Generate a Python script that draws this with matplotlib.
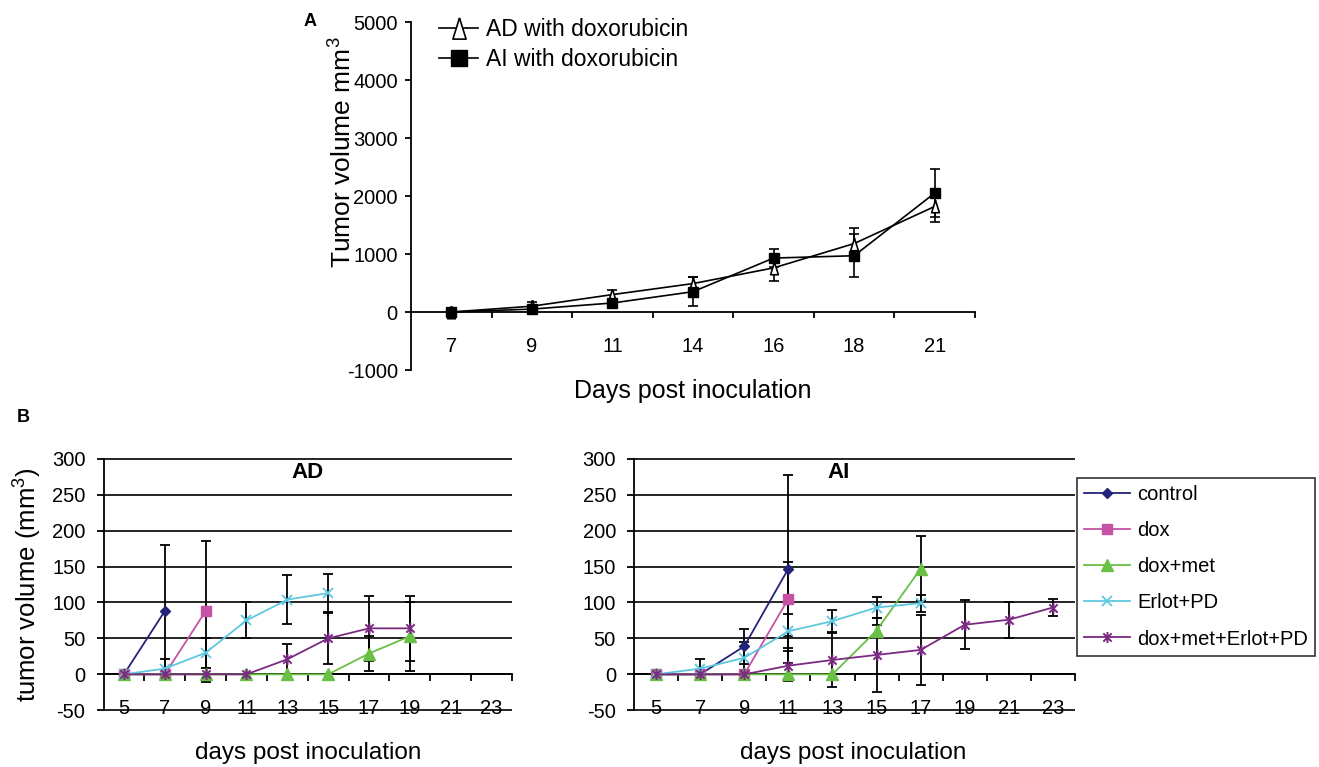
import numpy as np
import matplotlib.pyplot as plt
from matplotlib.path import Path

plt.rcParams['font.family'] = ['Liberation Sans', 'DejaVu Sans']
plt.rcParams['mathtext.fontset'] = 'custom'
plt.rcParams['mathtext.rm'] = 'Liberation Sans'
plt.rcParams['mathtext.it'] = 'Liberation Sans'
plt.rcParams['mathtext.bf'] = 'Liberation Sans:bold'
plt.rcParams['axes.unicode_minus'] = False

nan = np.nan

# ---- panel A data
days_a = ['7', '9', '11', '14', '16', '18', '21']
ad_dox = [0, 100, 300, 490, 760, 1180, 1820]
ad_dox_err = [20, 80, 86, 120, 218, 270, 260]
ai_dox = [0, 50, 155, 350, 930, 970, 2050]
ai_dox_err = [40, 60, 70, 255, 155, 368, 414]

# ---- panel B data
days_b = ['5', '7', '9', '11', '13', '15', '17', '19', '21', '23']
groups = ['control', 'dox', 'dox+met', 'Erlot+PD', 'dox+met+Erlot+PD']

ad_control = [0, 88, nan, nan, nan, nan, nan, nan, nan, nan]
ad_control_err = [nan, 92, nan, nan, nan, nan, nan, nan, nan, nan]
ad_dox_b = [0, 0, 88, nan, nan, nan, nan, nan, nan, nan]
ad_dox_b_err = [nan, nan, 98, nan, nan, nan, nan, nan, nan, nan]
ad_doxmet = [0, 0, 0, 0, 0, 0, 29, 53, nan, nan]
ad_doxmet_err = [nan, nan, nan, nan, nan, nan, 24, 48, nan, nan]
ad_erlot = [0, 8, 30, 75, 104, 113, nan, nan, nan, nan]
ad_erlot_err = [nan, 14, 21, 25, 34, 26, nan, nan, nan, nan]
ad_combo = [0, 0, 0, 0, 21, 50, 64, 64, nan, nan]
ad_combo_err = [nan, nan, nan, nan, 21, 36, 45, 45, nan, nan]

ai_control = [0, 0, 39, 147, nan, nan, nan, nan, nan, nan]
ai_control_err = [nan, nan, 24, 131, nan, nan, nan, nan, nan, nan]
ai_dox_b = [0, 0, 0, 105, nan, nan, nan, nan, nan, nan]
ai_dox_b_err = [nan, nan, nan, 52, nan, nan, nan, nan, nan, nan]
ai_doxmet = [0, 0, 0, 0, 0, 61, 147, nan, nan, nan]
ai_doxmet_err = [nan, nan, nan, nan, nan, 8, 45, nan, nan, nan]
ai_erlot = [0, 8, 23, 60, 74, 93, 99, nan, nan, nan]
ai_erlot_err = [nan, 14, 22, 24, 15, 15, 12, nan, nan, nan]
ai_combo = [0, 0, 0, 12, 20, 27, 34, 69, 76, 93]
ai_combo_err = [nan, nan, nan, 21, 37, 51, 49, 34, 25, 12]

# star marker like excel
star = Path([(0, -1), (0, 1), (-0.75, -0.75), (0.75, 0.75), (-0.75, 0.75), (0.75, -0.75)],
            [Path.MOVETO, Path.LINETO] * 3)
tri = [(0, 1), (-0.62, -1), (0.62, -1), (0, 1)]

styles = {
    'control': dict(color='#23237a', marker='D', ms=5.3, mfc='#23237a', mec='#23237a'),
    'dox': dict(color='#c552a5', marker='s', ms=7, mfc='#c552a5', mec='#c552a5'),
    'dox+met': dict(color='#6abf45', marker='^', ms=8.5, mfc='#6abf45', mec='#6abf45'),
    'Erlot+PD': dict(color='#5ec8e0', marker='x', ms=6.5, mew=1.3),
    'dox+met+Erlot+PD': dict(color='#7b2a82', marker=star, ms=8, mfc='none', mew=1.4),
}

W, H = 1319, 767
fig = plt.figure(figsize=(W / 100, H / 100), dpi=100)


def box(l, t, r, b):
    return [l / W, 1 - b / H, (r - l) / W, (b - t) / H]


# ---------------- panel A
axA = fig.add_axes(box(411, 22, 975, 370))
xa = np.arange(len(days_a)) + 0.5
axA.errorbar(xa, ad_dox, yerr=ad_dox_err, fmt='none', ecolor='black', elinewidth=1.2,
             capsize=3.8, capthick=1.2)
axA.errorbar(xa, ai_dox, yerr=ai_dox_err, fmt='none', ecolor='black', elinewidth=1.2,
             capsize=3.8, capthick=1.2)
hA1, = axA.plot(xa, ad_dox, color='black', lw=1.2, marker=tri, ms=9, mfc='white',
                mec='black', mew=1.2, label='AD with doxorubicin', zorder=4)
hA2, = axA.plot(xa, ai_dox, color='black', lw=1.2, marker='s', ms=6.5, mfc='black',
                mec='black', label='AI with doxorubicin', zorder=4)
axA.set_xlim(0, len(days_a))
axA.set_ylim(-1000, 5000)
axA.set_yticks(range(-1000, 5001, 1000))
for s in ['top', 'right']:
    axA.spines[s].set_visible(False)
axA.spines['bottom'].set_position(('data', 0))
for s in ['left', 'bottom']:
    axA.spines[s].set_linewidth(1.3)
axA.set_xticks(xa)
axA.set_xticklabels(days_a)
axA.set_xticks(np.arange(1, len(days_a) + 1), minor=True)
axA.tick_params(axis='x', which='major', length=0, pad=18)
axA.tick_params(axis='x', which='minor', length=4.5, width=1.3, direction='out')
axA.tick_params(axis='y', length=4.5, width=1.3, pad=5)
for lab in axA.get_xticklabels() + axA.get_yticklabels():
    lab.set_fontsize(14.5)

# legend handles drawn bigger than the plotted markers
lgA = axA.legend(handles=[hA1, hA2], loc='upper left', bbox_to_anchor=(428 / W, 1 - 7 / H),
                 bbox_transform=fig.transFigure, frameon=False, fontsize=16.5,
                 handlelength=1.7, handletextpad=0.35, labelspacing=0.3, borderpad=0,
                 markerscale=1.7)
fig.text(343 / W, 1 - 152 / H, 'Tumor volume mm$^3$', rotation=90, ha='center',
         va='center', fontsize=19)
fig.text(693 / W, 1 - 391 / H, 'Days post inoculation', ha='center', va='center',
         fontsize=18)
fig.text(310 / W, 1 - 22 / H, 'A', ha='center', va='center', fontsize=13,
         fontweight='bold')
fig.text(23 / W, 1 - 417 / H, 'B', ha='center', va='center', fontsize=13,
         fontweight='bold')


# ---------------- panel B
def panel(ax, series, title, tx):
    xb = np.arange(len(days_b)) + 0.5
    handles = []
    for name, (vals, err) in zip(groups, series):
        ax.errorbar(xb, vals, yerr=err, fmt='none', ecolor='black', elinewidth=1.3,
                    capsize=3.8, capthick=1.3, zorder=3)
    for name, (vals, err) in zip(groups, series):
        h, = ax.plot(xb, vals, lw=1.3, label=name, zorder=4, **styles[name])
        handles.append(h)
    ax.set_xlim(0, len(days_b))
    ax.set_ylim(-51, 301)
    ax.set_yticks(range(-50, 301, 50))
    ax.yaxis.grid(True, color='black', lw=1.2)
    ax.set_axisbelow(True)
    for s in ['top', 'right']:
        ax.spines[s].set_visible(False)
    ax.spines['bottom'].set_position(('data', 0))
    ax.spines['left'].set_bounds(-50, 300)
    for s in ['left', 'bottom']:
        ax.spines[s].set_linewidth(1.3)
    ax.set_xticks(xb)
    ax.set_xticklabels(days_b)
    ax.set_xticks(np.arange(1, len(days_b) + 1), minor=True)
    ax.tick_params(axis='x', which='major', length=0, pad=18, labelsize=14.5)
    ax.tick_params(axis='x', which='minor', length=5, width=1.3, direction='out')
    ax.tick_params(axis='y', length=5, width=1.3, pad=8, labelsize=14.5)
    fig.text(tx / W, 1 - 473 / H, title, ha='center', va='center', fontsize=16,
             fontweight='bold')
    return handles


axAD = fig.add_axes(box(103.5, 458, 512, 711))
axAI = fig.add_axes(box(634, 458, 1075, 711))
panel(axAD, [(ad_control, ad_control_err), (ad_dox_b, ad_dox_b_err),
             (ad_doxmet, ad_doxmet_err), (ad_erlot, ad_erlot_err),
             (ad_combo, ad_combo_err)], 'AD', 308)
hb = panel(axAI, [(ai_control, ai_control_err), (ai_dox_b, ai_dox_b_err),
                  (ai_doxmet, ai_doxmet_err), (ai_erlot, ai_erlot_err),
                  (ai_combo, ai_combo_err)], 'AI', 839)

leg = fig.legend(handles=hb, loc='upper left', bbox_to_anchor=(1077 / W, 1 - 478 / H),
                 fontsize=14.5, frameon=True, fancybox=False, edgecolor='black',
                 handlelength=2.3, handletextpad=0.35, labelspacing=0.85,
                 borderpad=0.35, borderaxespad=0)
leg.get_frame().set_linewidth(1.2)

fig.text(28 / W, 1 - 585 / H, 'tumor volume (mm$^3$)', rotation=90, ha='center',
         va='center', fontsize=18.5)
fig.text(308 / W, 1 - 753 / H, 'days post inoculation', ha='center', va='center',
         fontsize=17.5)
fig.text(853 / W, 1 - 753 / H, 'days post inoculation', ha='center', va='center',
         fontsize=17.5)

fig.savefig('out.png', dpi=100)
